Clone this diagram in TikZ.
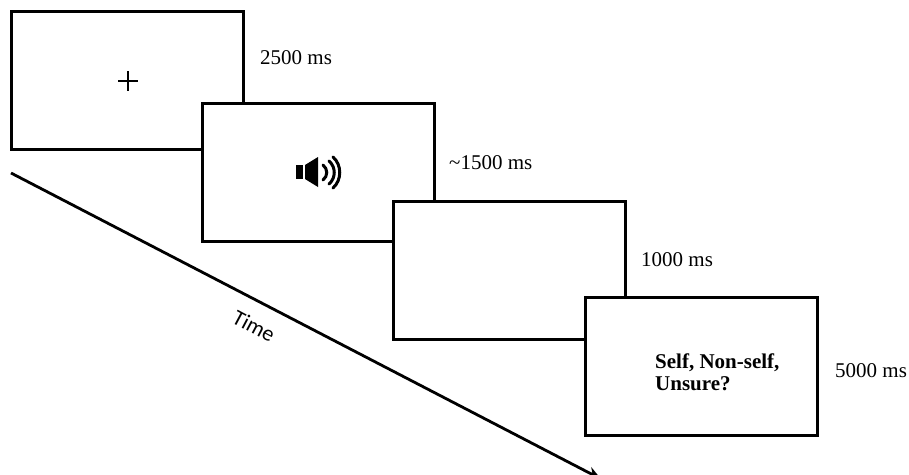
\documentclass[tikz,border=0pt]{standalone}
\usepackage{fontspec}
\setmainfont{Liberation Serif}
\newfontfamily\timefont{Carlito}
\usetikzlibrary{arrows.meta}
\tikzset{
  screen/.style={draw=black,fill=white,line width=3pt,minimum width=232pt,minimum height=138pt,inner sep=0pt},
  dur/.style={anchor=west,inner sep=0pt,font=\fontsize{21}{21}\selectfont},
  question/.style={anchor=west,inner sep=0pt,align=left,font=\fontsize{21}{22}\selectfont\bfseries},
  timeline/.style={line width=2.8pt,-{Stealth[length=14pt,width=12pt]}},
  timelabel/.style={inner sep=0pt,rotate=-28,font=\fontsize{22}{22}\selectfont\timefont},
  fixmark/.style={line width=2.4pt},
  spk/.style={fill=black,draw=none},
  wave/.style={line width=3pt,line cap=round}
}
\begin{document}
\begin{tikzpicture}[x=1pt,y=-1pt]
\useasboundingbox (0,0) rectangle (909,474);
\clip (0,0) rectangle (909,474);
\node[screen] (s1) at (127,80) {};
\node[screen] (s2) at (318.5,172) {};
\node[screen] (s3) at (509.5,270) {};
\node[screen] (s4) at (701.5,366.5) {};
% fixation cross
\coordinate (crossL) at (118,81);
\coordinate (crossR) at (138,81);
\coordinate (crossT) at (128,71);
\coordinate (crossB) at (128,91);
\draw[fixmark] (crossL) -- (crossR);
\draw[fixmark] (crossT) -- (crossB);
% speaker
\fill[spk] (296,165) rectangle (303,179);
\fill[spk] (305,165) -- (318,157) -- (318,187) -- (305,179) -- cycle;
\draw[wave] (323,165) .. controls (328,169) and (328,176) .. (323,180);
\draw[wave] (329,161) .. controls (336,167) and (336,178) .. (329,184);
\draw[wave] (333,157) .. controls (342,165) and (342,180) .. (333,188);
% durations
\node[dur] (d1) at (260,58) {2500 ms};
\node[dur] (d2) at (449,163) {\textasciitilde 1500 ms};
\node[dur] (d3) at (641,260) {1000 ms};
\node[dur] (d4) at (835,371) {5000 ms};
\node[question] (q) at (655,372) {Self, Non-self,\\Unsure?};
% time
\coordinate (tstart) at (11,173);
\coordinate (tend) at (601,479);
\draw[timeline] (tstart) -- (tend);
\node[timelabel] (tlabel) at (254,326) {Time};
\end{tikzpicture}
\end{document}
